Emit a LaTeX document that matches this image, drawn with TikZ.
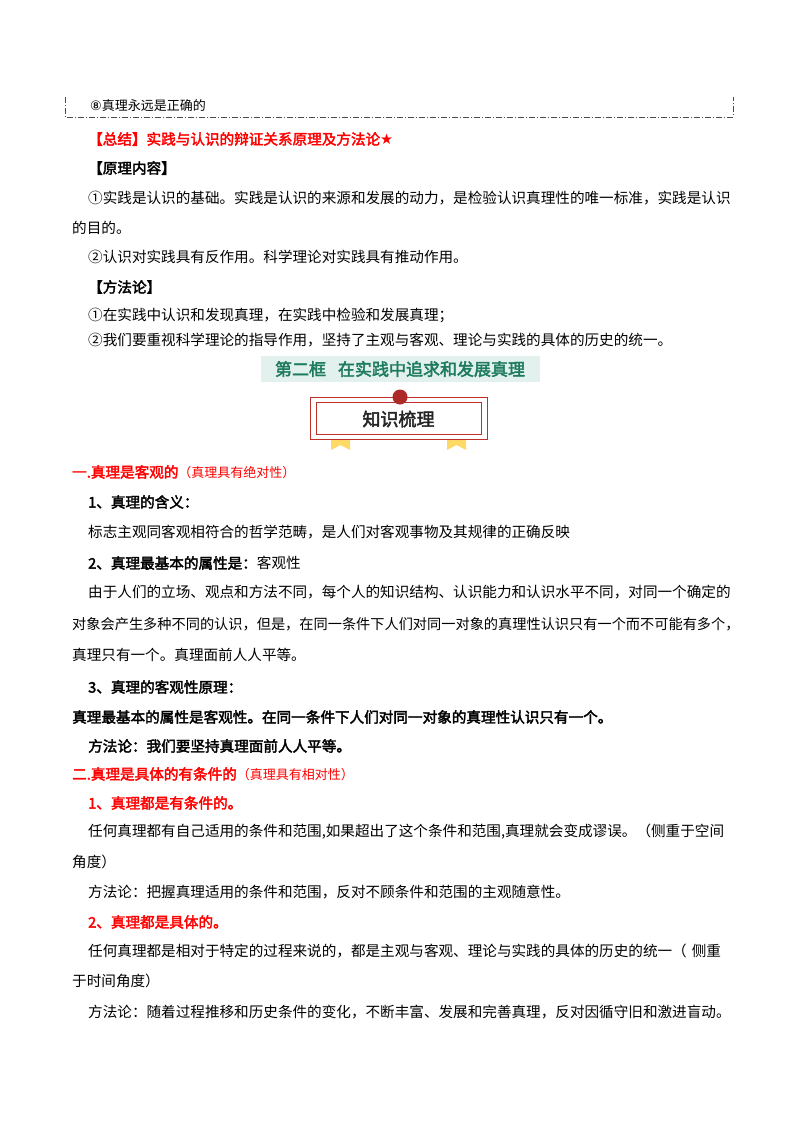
\documentclass[tikz,border=0pt]{standalone}
\usepackage{fontspec}
\setmainfont{Noto Sans CJK SC}[AutoFakeBold=2.5]
\newfontfamily\cjk{Noto Sans CJK SC}[AutoFakeBold=2.5]
\newfontfamily\dv{DejaVu Sans}
\definecolor{rd}{HTML}{FF0000}
\definecolor{tl}{HTML}{1E7B5E}
\definecolor{tlbg}{HTML}{E3F1EE}
\definecolor{br}{HTML}{C0302A}
\definecolor{yl}{HTML}{FFD966}
\begin{document}
\begin{tikzpicture}[x=1pt,y=-1pt,
  t/.style={anchor=west,inner sep=0pt,font=\fontsize{14.6}{16}\selectfont},
  tb/.style={t,font=\fontsize{14.6}{16}\selectfont\bfseries},
  tr/.style={tb,text=rd}]
\useasboundingbox[fill=white] (0,0) rectangle (800,1132);
\draw[dash pattern=on 6pt off 2pt on 1pt off 2pt,line width=0.9pt,gray!60!black] (65,97) -- (65,117) -- (733,117) -- (733,97);
\node[t,font=\fontsize{13}{15}\selectfont] (l0) at (90,106) {\dv ⑧\cjk 真理永远是正确的};
\node[tr] (l1) at (88,139) {【总结】实践与认识的辩证关系原理及方法论\dv ★};
\node[tb] (l2) at (88,168) {【原理内容】};
\node[t] (l3) at (88,198) {①实践是认识的基础。实践是认识的来源和发展的动力，是检验认识真理性的唯一标准，实践是认识};
\node[t] (l4) at (72,228) {的目的。};
\node[t] (l5) at (88,257) {②认识对实践具有反作用。科学理论对实践具有推动作用。};
\node[tb] (l6) at (88,287) {【方法论】};
\node[t] (l7) at (88,315) {①在实践中认识和发现真理，在实践中检验和发展真理；};
\node[t] (l8) at (88,340) {②我们要重视科学理论的指导作用，坚持了主观与客观、理论与实践的具体的历史的统一。};
\fill[tlbg] (261,356) rectangle (540,382);
\node[font=\fontsize{17}{19}\selectfont\bfseries,text=tl,inner sep=0pt] (hd) at (400,369) {第二框\hspace{12pt}在实践中追求和发展真理};
\fill[yl] (331,432) -- (350,432) -- (350,450) -- (340.5,445) -- (331,450) -- cycle;
\fill[yl] (447,432) -- (466,432) -- (466,450) -- (456.5,445) -- (447,450) -- cycle;
\draw[br,line width=1pt,fill=white] (310,397) rectangle (487,439);
\draw[br,line width=0.8pt] (316,402) rectangle (481,434);
\fill[yl] (331,439.5) rectangle (350,441);\fill[yl] (447,439.5) rectangle (466,441);
\fill[br!90!black] (400,397) circle (7.5);
\node[font=\fontsize{18}{20}\selectfont\bfseries,text=black!85,inner sep=0pt] (zs) at (398.5,419) {知识梳理};
\node[tr] (s1) at (72,472) {一.真理是客观的\mdseries\fontsize{13}{15}\selectfont（真理具有绝对性）};
\node[tb] (s2) at (88,502) {1、真理的含义：};
\node[t] (s3) at (88,532) {标志主观同客观相符合的哲学范畴，是人们对客观事物及其规律的正确反映};
\node[tb] (s4) at (88,563) {2、真理最基本的属性是：\mdseries 客观性};
\node[t] (s5) at (88,592) {由于人们的立场、观点和方法不同，每个人的知识结构、认识能力和认识水平不同，对同一个确定的};
\node[t,font=\fontsize{14.2}{16}\selectfont] (s6) at (72,624) {对象会产生多种不同的认识，但是，在同一条件下人们对同一对象的真理性认识只有一个而不可能有多个，};
\node[t] (s7) at (72,655) {真理只有一个。真理面前人人平等。};
\node[tb] (s8) at (88,687) {3、真理的客观性原理：};
\node[tb] (s9) at (72,717) {真理最基本的属性是客观性。在同一条件下人们对同一对象的真理性认识只有一个。};
\node[tb] (s10) at (88,746) {方法论：我们要坚持真理面前人人平等。};
\node[tr] (r1) at (72,774) {二.真理是具体的有条件的\mdseries\fontsize{13}{15}\selectfont（真理具有相对性）};
\node[tr] (r2) at (88,803) {1、真理都是有条件的。};
\node[t] (r3) at (88,832) {任何真理都有自己适用的条件和范围,如果超出了这个条件和范围,真理就会变成谬误。（侧重于空间};
\node[t] (r4) at (72,862) {角度）};
\node[t] (r5) at (88,892) {方法论：把握真理适用的条件和范围，反对不顾条件和范围的主观随意性。};
\node[tr] (r6) at (88,922) {2、真理都是具体的。};
\node[t] (r7) at (88,951) {任何真理都是相对于特定的过程来说的，都是主观与客观、理论与实践的具体的历史的统一（\hspace{5pt}侧重};
\node[t] (r8) at (72,981) {于时间角度）};
\node[t] (r9) at (88,1012) {方法论：随着过程推移和历史条件的变化，不断丰富、发展和完善真理，反对因循守旧和激进盲动。};
\end{tikzpicture}
\end{document}
